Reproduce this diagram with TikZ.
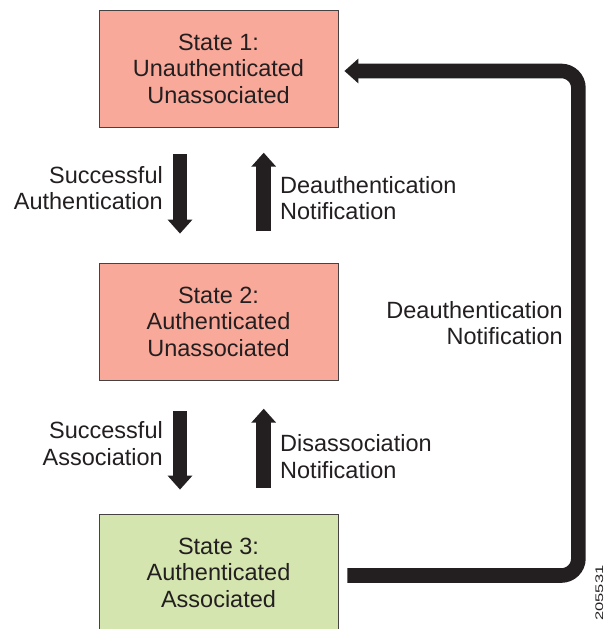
\documentclass[tikz,border=0pt]{standalone}
\usepackage{fontspec}
\setmainfont{Liberation Sans}
\usetikzlibrary{arrows.meta,calc}
\definecolor{statered}{RGB}{249,169,154}
\definecolor{stategreen}{RGB}{212,229,175}
\definecolor{boxline}{RGB}{70,66,66}
\definecolor{arrowdark}{RGB}{35,31,32}
\tikzset{
  state/.style = {draw=boxline, line width=0.8pt, text=arrowdark,
                  minimum width=239pt, minimum height=117pt,
                  inner sep=0pt, align=center,
                  font=\fontsize{23.5}{26.5}\selectfont},
  state/.default = statered,
  lbl/.style = {inner sep=0pt, text=arrowdark,
                font=\fontsize{23.5}{26.5}\selectfont},
  fat/.style = {draw=arrowdark, line width=14.6pt,
                -{Triangle[width=24pt,length=14pt]}}
}

\begin{document}
\begin{tikzpicture}[x=1pt, y=-1pt]
	\def \dn{-38.5} % down arrows
	\def \up{45.2}  % up arrows
	
	\useasboundingbox (0,0) rectangle (606,629);
	
	% States
	\node[state, fill=statered]   (s1) at (218.5,68.5)  {State 1:\\Unauthenticated\\Unassociated};
	\node[state, fill=statered]   (s2) at (218.5,321.5) {State 2:\\Authenticated\\Unassociated};
	\node[state, fill=stategreen] (s3) at (218.5,572.5) {State 3:\\Authenticated\\Associated};
	
	% Arrows 1-2
	\draw[fat] ($(s1.south)+(\dn,27)$)   -- ($(s2.north)+(\dn,-29)$);
	\draw[fat] ($(s2.north)+(\up,-31.3)$) -- ($(s1.south)+(\up,25.3)$);
	
	% Arrows 2-3
	\draw[fat] ($(s2.south)+(\dn,30.7)$) -- ($(s3.north)+(\dn,-24)$);
	\draw[fat] ($(s3.north)+(\up,-25.7)$) -- ($(s2.south)+(\up,28.3)$);
	
	% Back to state 1
	\draw[fat, rounded corners=17pt] ($(s3.east)+(9,3)$) -| ($(s1.east)+(240,2.5)$) -- ($(s1.east)+(6,2.5)$);
	
	% Labels
	\node[lbl, anchor=east, align=right] (auth)   at (163,188.3)   {Successful\\Authentication};
	\node[lbl, anchor=west, align=left]  (deauth) at (280,198)     {Deauthentication\\Notification};
	\node[lbl, anchor=east, align=right] (assoc)  at (163,443.5)   {Successful\\Association};
	\node[lbl, anchor=west, align=left]  (disas)  at (280,456.6)   {Disassociation\\Notification};
	\node[lbl, anchor=east, align=right] (back)   at (563,323)     {Deauthentication\\Notification};
	
	% Figure number
	\node[lbl, rotate=90, anchor=south, font=\fontsize{11}{11}\selectfont] (fig) at (603.5,593) {\scalebox{1.5}[1]{205531}};
	
\end{tikzpicture}
\end{document}
